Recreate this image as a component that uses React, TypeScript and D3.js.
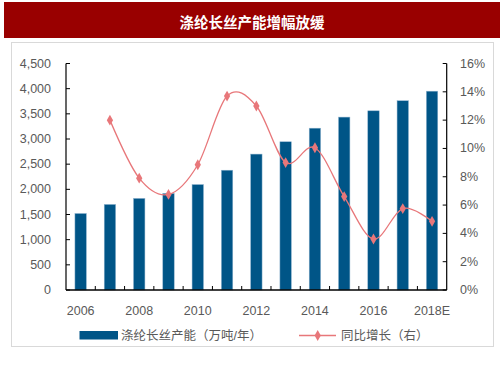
import React from "react";
import * as d3 from "d3";

const categories = ["2006","2007","2008","2009","2010","2011","2012","2013","2014","2015","2016","2017","2018E"];
const capacity = [1520, 1700, 1820, 1920, 2095, 2380, 2700, 2945, 3215, 3435, 3560, 3760, 3950];
const growth = [null, 12.0, 7.9, 6.75, 8.85, 13.7, 13.0, 9.0, 10.05, 6.6, 3.6, 5.75, 4.85];
const leftTicks = [0, 500, 1000, 1500, 2000, 2500, 3000, 3500, 4000, 4500];
const rightTicks = [0, 2, 4, 6, 8, 10, 12, 14, 16];
const title = "涤纶长丝产能增幅放缓";
const legendBar = "涤纶长丝产能（万吨/年）";
const legendLine = "同比增长（右）";

const W = 503, H = 378;
const left = 66, right = 446.7, top = 63.5, bottom = 290;
const FONT = "Arial, 'Liberation Sans', 'Noto Sans CJK SC', sans-serif";
const TXT = "#595959";
const BAR = "#005587";
const LINE = "#e8777a";

export default function App() {
  const x = d3.scaleBand<string>().domain(categories).range([left, right]).paddingInner(0.6).paddingOuter(0.3);
  const xb = d3.scaleBand<string>().domain(categories).range([left, right]);
  const yL = d3.scaleLinear().domain([0, 4500]).range([bottom, top]);
  const yR = d3.scaleLinear().domain([0, 16]).range([bottom, top]);
  const pts = categories.map((c, i) => ({ c, v: growth[i] })).filter(d => d.v != null) as { c: string; v: number }[];
  const line = d3.line<{ c: string; v: number }>()
    .x(d => (xb(d.c) as number) + xb.bandwidth() / 2)
    .y(d => yR(d.v))
    .curve(d3.curveCardinal.tension(0));
  const diamond = d3.symbol().type(d3.symbolDiamond).size(34)() as string;
  const bw = xb.bandwidth() * 0.39;

  return (
    <svg width={W} height={H} style={{ position: "absolute", left: 0, top: 0, background: "#fff" }} fontFamily={FONT}>
      <rect x={4} y={2} width={496} height={36} fill="#990000" />
      <text x={252} y={21} textAnchor="middle" dominantBaseline="central" fill="#fff" fontSize={14.5} fontWeight="bold"
        fontFamily="'Noto Sans CJK SC', sans-serif">{title}</text>
      <rect x={11.5} y={42.5} width={482} height={304} fill="none" stroke="#d9d9d9" strokeWidth={1} />

      {categories.map((c, i) => {
        const cx = (xb(c) as number) + xb.bandwidth() / 2;
        return (
          <rect key={c} x={cx - bw / 2} y={yL(capacity[i])} width={bw} height={bottom - yL(capacity[i])}
            fill={BAR} stroke="#8fb4cf" strokeWidth={0.5} />
        );
      })}

      {/* left axis */}
      <line x1={left} x2={left} y1={top} y2={bottom} stroke="#000" strokeWidth={1.2} />
      {leftTicks.map(t => (
        <g key={t}>
          <line x1={left} x2={left + 4} y1={yL(t)} y2={yL(t)} stroke="#000" strokeWidth={1} />
          <text x={51} y={yL(t)} textAnchor="end" dominantBaseline="central" fontSize={12.5} fill={TXT}>{d3.format(",")(t)}</text>
        </g>
      ))}
      {/* right axis */}
      <line x1={right} x2={right} y1={top} y2={bottom} stroke="#000" strokeWidth={1.2} />
      {rightTicks.map(t => (
        <g key={t}>
          <line x1={right - 4} x2={right} y1={yR(t)} y2={yR(t)} stroke="#000" strokeWidth={1} />
          <text x={460} y={yR(t)} textAnchor="start" dominantBaseline="central" fontSize={12.5} fill={TXT}>{t}%</text>
        </g>
      ))}
      {/* bottom axis */}
      <line x1={left} x2={right} y1={bottom} y2={bottom} stroke="#000" strokeWidth={1.5} />
      {categories.slice(1).map(c => (
        <line key={c} x1={xb(c) as number} x2={xb(c) as number} y1={bottom} y2={bottom - 4} stroke="#000" strokeWidth={1} />
      ))}
      {categories.map((c, i) => i % 2 === 0 ? (
        <text key={c} x={(xb(c) as number) + xb.bandwidth() / 2} y={310.5} textAnchor="middle" dominantBaseline="central"
          fontSize={12.5} fill={TXT}>{c}</text>
      ) : null)}

      <path d={line(pts) as string} fill="none" stroke={LINE} strokeWidth={1.3} />
      {pts.map(d => (
        <path key={d.c} d={diamond} transform={`translate(${(xb(d.c) as number) + xb.bandwidth() / 2},${yR(d.v)})`} fill={LINE} />
      ))}

      {/* legend */}
      <rect x={79.5} y={331} width={38.5} height={8.5} fill={BAR} />
      <text x={121} y={335.5} dominantBaseline="central" fontSize={12.5} fill={TXT}>{legendBar}</text>
      <line x1={299} x2={336} y1={335.5} y2={335.5} stroke={LINE} strokeWidth={1.3} />
      <path d={diamond} transform="translate(317.7,335.5)" fill={LINE} />
      <text x={341} y={335.5} dominantBaseline="central" fontSize={12.5} fill={TXT}>{legendLine}</text>
    </svg>
  );
}
